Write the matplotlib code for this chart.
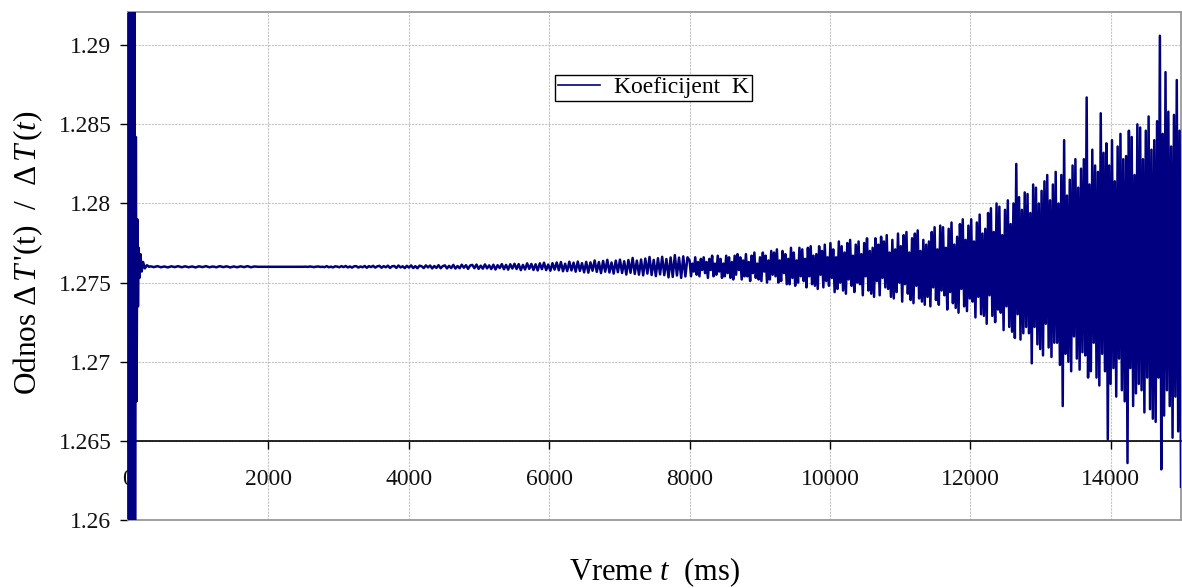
import numpy as np
import matplotlib
matplotlib.use('Agg')
import matplotlib.pyplot as plt

plt.rcParams['font.family'] = ['Liberation Serif', 'DejaVu Serif']
plt.rcParams['mathtext.fontset'] = 'custom'
plt.rcParams['mathtext.rm'] = 'Liberation Serif'
plt.rcParams['mathtext.it'] = 'Liberation Serif:italic'
plt.rcParams['mathtext.bf'] = 'Liberation Serif:bold'

BASE = 1.276  # settled value of K

# start-up transient (ms, ratio)
t_start = [0, 10, 20, 30, 40, 50, 60, 70, 80, 90, 100, 112, 122, 132, 142,
           152, 164, 178, 195, 215, 240, 270, 300]
k_start = [1.276, 1.300, 1.250, 1.298, 1.252, 1.297, 1.254, 1.296, 1.255,
           1.295, 1.256, 1.2842, 1.2675, 1.2790, 1.2735, 1.2772, 1.2753,
           1.2768, 1.2757, 1.2763, 1.2759, 1.2761, 1.2760]

# deviations from BASE in units of 1e-4
ripple_dev = [0.3, -0.2, 0.4, -0.3, 0.2, -0.4, 0.3, -0.2, 0.4, -0.3,
              0.3, -0.3, 0.2, -0.4, 0.3, -0.2, 0.4, -0.3, 0.2, -0.3,
              0.4, -0.2, 0.3, -0.4, 0.2, -0.3, 0.3, -0.2, 0.4, -0.3,
              0.2, 0.0]  # 320 - 1900 ms

quiet_dev = [0, 0.1, -0.1, 0.2, 0, -0.2, 0.1, 0.2, -0.1, 0,
             -0.2, 0.4, -0.3, 0.1, -0.4, 0.3, 0.1, -0.3, 0.4, -0.2,
             0.5, -0.4, 0.2, -0.5, 0.3, 0.4, -0.5, 0.2, -0.3, 0.5,
             -0.6, 0.4, -0.2, 0.6, -0.5, 0.3, 0.6, -0.6, 0.4, -0.3,
             0.7, -0.7, 0.3, 0.5, -0.7, 0.8, -0.4, 0.3, -0.8, 0.6,
             -0.5, 0.9, -0.8, 0.4, -0.9, 0.7, 0.3, -0.8, 0.9, -0.4,
             0.8, -1.0, 0.5, -0.7, 1.0, -0.9, 0.4, 0.9, -1.0, 0.6,
             -0.8, 1.2, -1.1, 0.5, -0.9, 1.3, -0.6, 1.0, -1.3, 0.8,
             1.2, -0.9, 1.4, -1.3, 0.7, -1.2, 1.5, -1.0, 0.9, -1.4,
             1.3, -1.7, 1.0, -0.8, 1.7, -1.5, 1.2, -1.8, 1.6, -1.1,
             1.9, -1.4, 1.7, -2.1, 1.2, -1.7, 2.2, -1.3, 1.8, -2.0,
             1.6, -2.3, 2.2, -1.5, 2.6, -2.1, 1.4, -2.5, 2.3, -1.8,
             2.7, -2.2, 3.0, -2.8, 1.9, -2.7, 3.2, -2.3, 2.6, -3.1,
             3.3, -2.6, 2.3, -3.5, 3.1, -3.7, 2.8, -2.5, 4.0, -3.2,
             3.0, -4.0, 3.7, -3.1, 4.4, -3.6, 2.7, -4.3, 3.9, -3.4,
             4.5, -3.9, 3.5, -4.9, 4.3, -3.8, 5.6, -4.5, 3.9, -5.0,
             4.6, -5.4, 5.2, -4.3, 6.2, -5.2, 4.4, -5.9, 5.4, -4.8,
             6.3, -5.3, 4.9, -6.7, 5.9, -6.4, 7.4, -5.5, 5.8, -7.0,
             6.6, -6.1, 6.0]  # 2500 - 8000 ms

growing_dev = [4, -6, 2, -3, 6, -5, 3, -6, 5, -2,
               6, -4, 3, -7, 5, -2, 7, -6, 2, -5,
               7, -3, 5, -7, 2, -6, 7, -4, 6, -7,
               3, -8, 7, -5, 8, -2, 6, -8, 4, -6,
               8, -6, 3, -9, 7, -4, 9, -7, 2, -8,
               6, -9, 9, -3, 7, -10, 4, -8, 10, -5,
               9, -6, 11, -10, 4, -9, 10, -4, 8, -11,
               5, -11, 12, -7, 9, -12, 4, -10, 12, -6,
               11, -9, 5, -13, 12, -6, 13, -11, 7, -12,
               8, -14, 13, -5, 10, -13, 14, -9, 6, -12,
               15, -7, 11, -16, 6, -14, 16, -10, 13, -15,
               9, -17, 15, -8, 17, -12, 7, -16, 14, -10,
               16, -11, 8, -18, 15, -6, 18, -15, 10, -17,
               12, -19, 18, -9, 14, -18, 19, -7, 16, -13,
               20, -14, 9, -19, 17, -20, 11, -16, 21, -10,
               13, -22, 20, -11, 22, -17, 9, -21, 18, -23,
               21, -12, 23, -20, 10, -22, 17, -24, 14, -19,
               16, -25, 22, -13, 25, -21, 11, -24, 26, -15,
               25, -18, 12, -27, 24, -16, 28, -23, 14, -26,
               19, -29, 27, -14, 30, -25, 17, -28, 26, -20,
               30, -22, 16, -32, 28, -19, 33, -30, 21, -31,
               24, -36, 34, -18, 37, -31, 22, -35, 40, -27,
               38, -29, 20, -40, 36, -25, 42, -38, 27, -41,
               40, -45, 65, -30, 44, -46, 36, -42, 47, -38,
               46, -42, 34, -61, 52, -38, 50, -49, 40, -52,
               48, -56, 54, -36, 58, -51, 42, -57, 52, -48,
               60, -48, 40, -62, 58, -88, 80, -55, 45, -60,
               55, -66, 64, -44, 68, -58, 50, -65, 62, -54,
               68, -56, 107, -70, 52, -66, 74, -48, 64, -70,
               60, -75, 97, -55, 72, -66, 78, -109, 64, -74,
               80, -64, 54, -82, 76, -58, 84, -78, 68, -85,
               70, -124, 86, -64, 82, -88, 58, -80, 90, -74,
               88, -78, 68, -92, 86, -70, 95, -90, 74, -96,
               80, -98, 92, -70, 146, -128, 84, -94, 123, -78,
               98, -88, 76, -108, 96, -82, 118, -104, 86, -139]  # 8000 - 15000 ms

x_ticks = [0, 2000, 4000, 6000, 8000, 10000, 12000, 14000]
x_tick_labels = ['0', '2000', '4000', '6000', '8000', '10000', '12000', '14000']
y_ticks = [1.26, 1.265, 1.27, 1.275, 1.28, 1.285, 1.29]
y_tick_labels = ['1.26', '1.265', '1.27', '1.275', '1.28', '1.285', '1.29']

# assemble the series
t_ripple = np.linspace(320, 1900, len(ripple_dev), endpoint=False)
t_quiet = np.linspace(2500, 8000, len(quiet_dev), endpoint=False)
t_grow = np.linspace(8000, 15000, len(growing_dev))
t = np.concatenate([t_start, t_ripple, [1900], t_quiet, t_grow])
k = np.concatenate([k_start,
                    BASE + np.array(ripple_dev) * 1e-4,
                    [BASE],
                    BASE + np.array(quiet_dev) * 1e-4,
                    BASE + np.array(growing_dev) * 1e-4])

fig = plt.figure(figsize=(11.82, 5.88), dpi=100)
ax = fig.add_axes([128 / 1182, 1 - 520 / 588, (1181 - 128) / 1182, 508 / 588])

ax.plot(t, k, color='#000080', lw=1.8, label='Koeficijent  K', zorder=3)

ax.set_xlim(0, 15000)
ax.set_ylim(1.26, 1.2921)

ax.set_xticks(x_ticks)
ax.set_xticklabels(x_tick_labels)
ax.set_yticks(y_ticks)
ax.set_yticklabels(y_tick_labels)
ax.tick_params(axis='both', labelsize=17, color='black', labelcolor='#111111')
ax.tick_params(axis='y', direction='out', length=6, pad=6, width=1)
ax.tick_params(axis='x', direction='out', length=6, pad=14, width=1)

ax.grid(True, color='#c4c4c4', linestyle=(0, (2, 1)), linewidth=0.8)

# x axis crosses at 1.265, box border stays gray
ax.spines['bottom'].set_position(('data', 1.265))
ax.spines['bottom'].set_color('black')
ax.spines['bottom'].set_linewidth(1.2)
ax.spines['left'].set_color('black')
ax.spines['left'].set_linewidth(1.2)
for side in ['top', 'right']:
    ax.spines[side].set_color('#999999')
    ax.spines[side].set_linewidth(1.3)
ax.axhline(1.26, color='#999999', lw=1.3, clip_on=False, zorder=2.6)

leg = ax.legend(loc='center', bbox_to_anchor=(0.499, 0.851), fontsize=17,
                frameon=True, fancybox=False, framealpha=1, edgecolor='black',
                handlelength=1.8, handletextpad=0.6, borderpad=0.1)
leg.get_frame().set_linewidth(1.0)
for line in leg.get_lines():
    line.set_linewidth(1.2)

fig.text(0.5537, 0.027, 'Vreme $t$  (ms)', ha='center', va='center', fontsize=22)
fig.text(0.024, 0.57, "Odnos $\\Delta\\,T\\,$'(t)  /  $\\Delta\\,T\\,(t)$", ha='center',
         va='center', rotation=90, fontsize=22.5)

fig.savefig('out.png', dpi=100)
plt.close(fig)
